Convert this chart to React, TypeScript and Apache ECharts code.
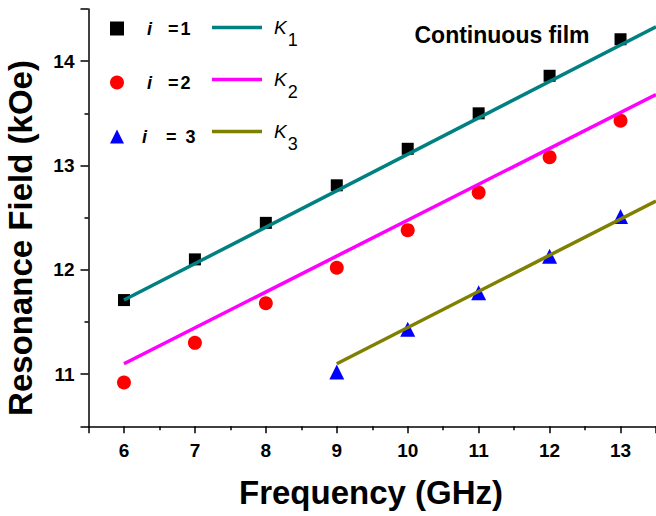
import React, { useEffect, useRef } from "react";
import * as echarts from "echarts";

// ---- data ----
const freq = [6, 7, 8, 9, 10, 11, 12, 13];
const fieldI1 = [11.71, 12.1, 12.45, 12.81, 13.16, 13.5, 13.86, 14.21];
const fieldI2 = [10.92, 11.3, 11.68, 12.02, 12.38, 12.74, 13.08, 13.43];
const freqI3 = [9, 10, 11, 12, 13];
const fieldI3 = [11.02, 11.43, 11.78, 12.13, 12.51];

const fitK1Freq = [6, 13.5];
const fitK1Field = [11.71, 14.33];
const fitK2Freq = [6, 13.5];
const fitK2Field = [11.1, 13.68];
const fitK3Freq = [9, 13.5];
const fitK3Field = [11.1, 12.66];

const scatterNames = ["i =1", "i =2", "i = 3"];
const fitNames = ["K1", "K2", "K3"];

const FONT = "'Liberation Sans', Arial, sans-serif";

const zip = (xs: number[], ys: number[]) => xs.map((x, i) => [x, ys[i]]);

export default function App() {
  const ref = useRef<HTMLDivElement>(null);

  useEffect(() => {
    if (!ref.current) return;
    const chart = echarts.init(ref.current, undefined, { renderer: "svg" });

    const intLabel = (v: number) => (Math.abs(v - Math.round(v)) < 1e-6 ? String(Math.round(v)) : "");

    const legendAFormatter = (name: string) => {
      if (name === "i =1") return "{a|i}{b|=}{c|1}";
      if (name === "i =2") return "{a|i}{b|=}{c|2}";
      return "{a3|i}{b|=}{c3|3}";
    };
    const legendBFormatter = (name: string) => `{k|K}{s|${name.slice(1)}}`;

    const option: any = {
      animation: false,
      backgroundColor: "#ffffff",
      grid: { left: 88.5, right: -1, top: 9, bottom: 89.7, containLabel: false },
      xAxis: {
        type: "value",
        min: 5.5,
        max: 13.5,
        splitNumber: 8,
        axisLine: { onZero: false, lineStyle: { color: "#000", width: 1.5 } },
        axisTick: { show: true, inside: false, length: 7, lineStyle: { color: "#000", width: 1.5 } },
        minorTick: { show: true, splitNumber: 2, length: 4, lineStyle: { color: "#000", width: 1.5 } },
        axisLabel: {
          color: "#000",
          fontSize: 19,
          fontWeight: "bold",
          fontFamily: FONT,
          margin: 15,
          showMinLabel: false,
          showMaxLabel: false,
          formatter: intLabel,
        },
        splitLine: { show: false },
        minorSplitLine: { show: false },
      },
      yAxis: {
        type: "value",
        min: 10.5,
        max: 14.5,
        splitNumber: 4,
        axisLine: { show: true, onZero: false, lineStyle: { color: "#000", width: 1.5 } },
        axisTick: { show: true, inside: false, length: 8, lineStyle: { color: "#000", width: 1.5 } },
        minorTick: { show: true, splitNumber: 2, length: 4, lineStyle: { color: "#000", width: 1.5 } },
        axisLabel: {
          color: "#000",
          fontSize: 19,
          fontWeight: "bold",
          fontFamily: FONT,
          margin: 14,
          showMinLabel: false,
          showMaxLabel: false,
          formatter: intLabel,
        },
        splitLine: { show: false },
        minorSplitLine: { show: false },
      },
      legend: [
        {
          data: scatterNames,
          orient: "vertical",
          left: 110,
          top: 18.5,
          padding: 0,
          itemWidth: 14,
          itemHeight: 14,
          itemGap: 34,
          selectedMode: false,
          formatter: legendAFormatter,
          textStyle: {
            color: "#000",
            fontFamily: FONT,
            fontSize: 18,
            fontWeight: "bold",
            lineHeight: 20,
            rich: {
              a: { fontStyle: "italic", fontWeight: "bold", fontSize: 18, fontFamily: FONT, color: "#000", lineHeight: 20, padding: [0, 16, 0, 18] },
              a3: { fontStyle: "italic", fontWeight: "bold", fontSize: 18, fontFamily: FONT, color: "#000", lineHeight: 20, padding: [0, 19, 0, 13] },
              b: { fontWeight: "bold", fontSize: 18, fontFamily: FONT, color: "#000", lineHeight: 20 },
              c: { fontWeight: "bold", fontSize: 18, fontFamily: FONT, color: "#000", lineHeight: 20, padding: [0, 0, 0, 2] },
              c3: { fontWeight: "bold", fontSize: 18, fontFamily: FONT, color: "#000", lineHeight: 20, padding: [0, 0, 0, 9] },
            },
          },
        },
        {
          data: fitNames.map((n) => ({ name: n, icon: "rect" })),
          orient: "vertical",
          left: 212,
          top: 6.5 + 22 - 1.75 - 22 + 1.75,
          padding: 0,
          itemWidth: 50,
          itemHeight: 3.5,
          itemGap: 10,
          selectedMode: false,
          formatter: legendBFormatter,
          textStyle: {
            color: "#000",
            fontFamily: FONT,
            fontSize: 19,
            rich: {
              k: { fontStyle: "italic", fontSize: 19, fontFamily: FONT, color: "#000", lineHeight: 20, padding: [0, 1, 0, 7] },
              s: { fontSize: 18, fontFamily: FONT, color: "#000", lineHeight: 20, padding: [24, 0, 0, 0] },
            },
          },
        },
      ],
      graphic: [
        {
          type: "text",
          x: 502,
          y: 35,
          style: {
            text: "Continuous film",
            fill: "#000",
            font: `bold 23px ${FONT}`,
            textAlign: "center",
            textVerticalAlign: "middle",
          },
        },
        {
          type: "text",
          x: 371,
          y: 492.5,
          style: {
            text: "Frequency (GHz)",
            fill: "#000",
            font: `bold 33px ${FONT}`,
            textAlign: "center",
            textVerticalAlign: "middle",
          },
        },
        {
          type: "text",
          x: 20.5,
          y: 238,
          rotation: Math.PI / 2,
          style: {
            text: "Resonance Field (kOe)",
            fill: "#000",
            font: `bold 33px ${FONT}`,
            textAlign: "center",
            textVerticalAlign: "middle",
          },
        },
      ],
      series: [
        {
          name: scatterNames[0],
          type: "scatter",
          symbol: "rect",
          symbolSize: 12,
          itemStyle: { color: "#000000", opacity: 1 },
          data: zip(freq, fieldI1),
          z: 2,
        },
        {
          name: scatterNames[1],
          type: "scatter",
          symbol: "circle",
          symbolSize: 14,
          itemStyle: { color: "#ff0000", opacity: 1 },
          data: zip(freq, fieldI2),
          z: 2,
        },
        {
          name: scatterNames[2],
          type: "scatter",
          symbol: "triangle",
          symbolSize: 15,
          itemStyle: { color: "#0000ff", opacity: 1 },
          data: zip(freqI3, fieldI3),
          z: 2,
        },
        {
          name: fitNames[0],
          type: "line",
          symbol: "none",
          lineStyle: { color: "#008080", width: 3.5 },
          itemStyle: { color: "#008080" },
          data: zip(fitK1Freq, fitK1Field),
          z: 3,
        },
        {
          name: fitNames[1],
          type: "line",
          symbol: "none",
          lineStyle: { color: "#ff00ff", width: 3.5 },
          itemStyle: { color: "#ff00ff" },
          data: zip(fitK2Freq, fitK2Field),
          z: 3,
        },
        {
          name: fitNames[2],
          type: "line",
          symbol: "none",
          lineStyle: { color: "#808000", width: 3.5 },
          itemStyle: { color: "#808000" },
          data: zip(fitK3Freq, fitK3Field),
          z: 3,
        },
      ],
    };

    chart.setOption(option);
    return () => chart.dispose();
  }, []);

  return (
    <div
      ref={ref}
      style={{ position: "fixed", left: 0, top: 0, width: 656, height: 516, background: "#fff" }}
    />
  );
}
